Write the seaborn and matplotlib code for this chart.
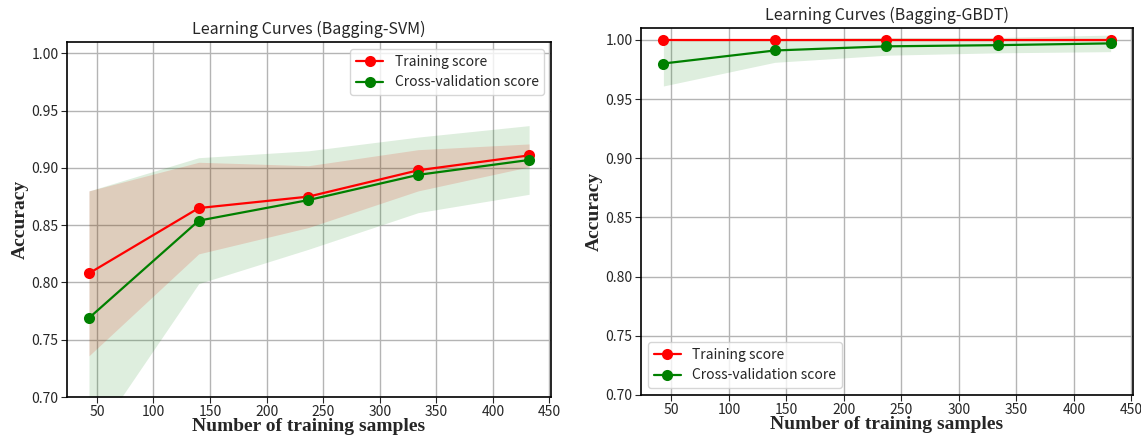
import numpy as np
import pandas as pd
import matplotlib
matplotlib.use("Agg")
import matplotlib.pyplot as plt
import seaborn as sns

# training set sizes (sklearn learning_curve, 10%..100%)
train_sizes = [43, 140, 237, 334, 432]

# Bagging-SVM
svm_train_mean = [0.808, 0.865, 0.875, 0.898, 0.911]
svm_train_std = [0.072, 0.040, 0.027, 0.018, 0.010]
svm_cv_mean = [0.769, 0.854, 0.872, 0.894, 0.907]
svm_cv_std = [0.111, 0.055, 0.043, 0.033, 0.030]

# Bagging-GBDT
gbdt_train_mean = [1.000, 1.000, 1.000, 1.000, 1.000]
gbdt_train_std = [0.000, 0.000, 0.000, 0.000, 0.000]
gbdt_cv_mean = [0.980, 0.991, 0.9945, 0.9955, 0.997]
gbdt_cv_std = [0.019, 0.010, 0.0075, 0.0065, 0.007]

y_ticks = [0.70, 0.75, 0.80, 0.85, 0.90, 0.95, 1.00]

sns.set_style("ticks")
plt.rcParams['font.family'] = ['Noto Sans CJK SC', 'DejaVu Sans']

TICK_FONT = 10
LABEL_FONT = {'family': 'Liberation Serif', 'weight': 'bold', 'size': 14}


def plot_curve(ax, title, tr_mean, tr_std, cv_mean, cv_std, legend_loc):
    sizes = np.array(train_sizes)
    tr_mean, tr_std = np.array(tr_mean), np.array(tr_std)
    cv_mean, cv_std = np.array(cv_mean), np.array(cv_std)

    ax.grid(True, color="#b4b4b4", linewidth=1.0)
    ax.set_axisbelow(True)
    ax.fill_between(sizes, tr_mean - tr_std, tr_mean + tr_std, alpha=0.15, color="r", linewidth=0)
    ax.fill_between(sizes, cv_mean - cv_std, cv_mean + cv_std, alpha=0.13, color="g", linewidth=0)

    df = pd.DataFrame({
        "size": np.concatenate([sizes, sizes]),
        "score": np.concatenate([tr_mean, cv_mean]),
        "kind": ["Training score"] * len(sizes) + ["Cross-validation score"] * len(sizes),
    })
    sns.lineplot(data=df, x="size", y="score", hue="kind", marker="o",
                 palette={"Training score": "r", "Cross-validation score": "g"},
                 markersize=8, markeredgewidth=0, linewidth=1.6, ax=ax)

    ax.set_ylim(0.70, 1.01)
    ax.set_yticks(y_ticks)
    ax.set_yticklabels([f"{v:.2f}" for v in y_ticks])
    ax.set_xticks(range(50, 451, 50))
    ax.tick_params(labelsize=TICK_FONT, direction="out", length=4, pad=2)
    for s in ax.spines.values():
        s.set_visible(True)
        s.set_color("black")
        s.set_linewidth(1.2)

    ax.set_title(title, fontsize=11.5)
    ax.set_xlabel("Number of training samples", fontdict=LABEL_FONT, labelpad=-1)
    ax.set_ylabel("Accuracy", fontdict=LABEL_FONT, labelpad=2)
    ax.legend(loc=legend_loc, fontsize=10, frameon=True, fancybox=True, title=None)


fig = plt.figure(figsize=(11.41, 4.40), dpi=100)
ax1 = fig.add_axes([0.0587, 0.0977, 0.4243, 0.8068])
ax2 = fig.add_axes([0.5618, 0.1023, 0.4312, 0.8341])

plot_curve(ax1, "Learning Curves (Bagging-SVM)", svm_train_mean, svm_train_std,
           svm_cv_mean, svm_cv_std, "upper right")
plot_curve(ax2, "Learning Curves (Bagging-GBDT)", gbdt_train_mean, gbdt_train_std,
           gbdt_cv_mean, gbdt_cv_std, "lower left")

fig.savefig("out.png", dpi=100)
